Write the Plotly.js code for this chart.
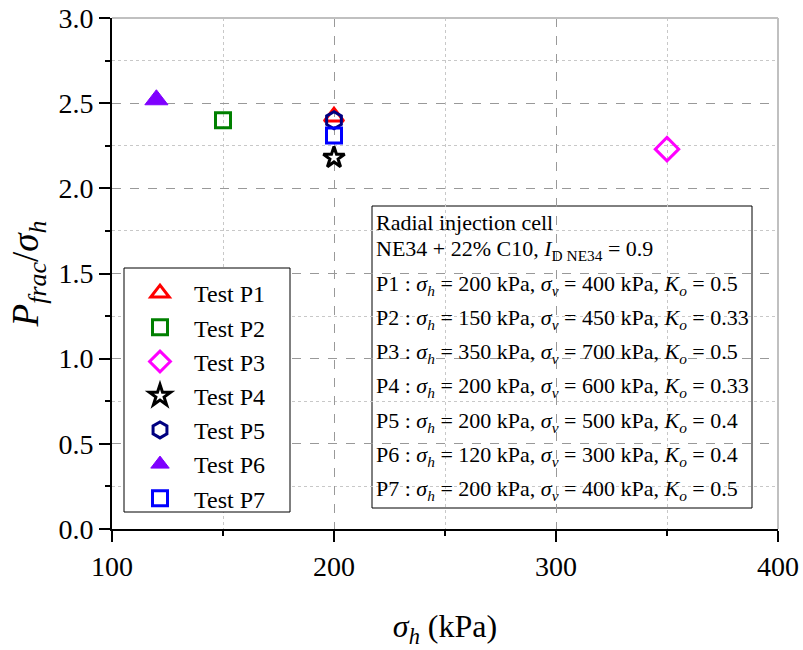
<!DOCTYPE html>
<html>
<head>
<meta charset="utf-8">
<script src="https://cdn.plot.ly/plotly-3.0.1.min.js"></script>
<style>html,body{margin:0;padding:0;background:#fff;}#chart{width:803px;height:650px;}</style>
</head>
<body>
<div id="chart"></div>
<script>
// ---- data ----
const testNames = ["Test P1","Test P2","Test P3","Test P4","Test P5","Test P6","Test P7"];
const testIds   = ["P1","P2","P3","P4","P5","P6","P7"];
const sigmaH    = [200, 150, 350, 200, 200, 120, 200];   // kPa
const sigmaV    = [400, 450, 700, 600, 500, 300, 400];   // kPa
const Ko        = ["0.5","0.33","0.5","0.33","0.4","0.4","0.5"];
const pRatio    = [2.42, 2.40, 2.23, 2.18, 2.40, 2.52, 2.31]; // P_frac / sigma_h

// ---- styles ----
const symbols = ["triangle-up-open","square-open","diamond-open","star-open","hexagon-open","triangle-up","square-open"];
const colors  = ["#FF0000","#008000","#FF00FF","#000000","#000080","#7F00FF","#0000FF"];
const sizes   = [17,15,18,16,17,20,15];

const font = "Liberation Serif";

const traces = testNames.map((n,i)=>({
  type:"scatter", mode:"markers", name:n,
  x:[sigmaH[i]], y:[pRatio[i]],
  marker:{symbol:symbols[i], color:colors[i], size:sizes[i],
          line:{color:colors[i], width: symbols[i].endsWith("open")?3:1}},
  cliponaxis:false
}));

// annotation box lines
const lines = ["Radial injection cell",
  "NE34 + 22% C10, <i>I</i><sub>D NE34</sub> = 0.9"];
testIds.forEach((id,i)=>{
  lines.push(id+" : <i>σ<sub>h</sub></i> = "+sigmaH[i]+" kPa, <i>σ<sub>v</sub></i> = "+sigmaV[i]+" kPa, <i>K<sub>o</sub></i> = "+Ko[i]);
});

// paper coordinates of plot area: left 112, right 778, top 18, bottom 529
const pxL=112, pxR=778, pxT=18, pxB=529;
const toPx = (px)=> (px-pxL)/(pxR-pxL);
const toPy = (py)=> (pxB-py)/(pxB-pxT);
const lineY = [222,250,285,319,353,387,422,456,490];

const annotations = lines.map((t,i)=>({
  xref:"paper", yref:"paper", x:toPx(374), y:toPy(lineY[i]),
  xanchor:"left", yanchor:"middle", showarrow:false,
  text:t, font:{family:font, size:22, color:"#000"}
}));

const shapes = [
  {type:"rect", xref:"paper", yref:"paper", x0:toPx(372), x1:toPx(752), y0:toPy(508), y1:toPy(206),
   line:{color:"#000", width:1}, fillcolor:"#fff", layer:"below"},
  {type:"rect", xref:"paper", yref:"paper", x0:toPx(124), x1:toPx(290), y0:toPy(512), y1:toPy(268),
   line:{color:"#000", width:1}, fillcolor:"#fff", layer:"above"},
  {type:"line", xref:"paper", yref:"paper", x0:0, x1:1, y0:1, y1:1, line:{color:"#c0c0c0", width:2}},
  {type:"line", xref:"paper", yref:"paper", x0:1, x1:1, y0:0, y1:1, line:{color:"#c0c0c0", width:2}}
];

const layout = {
  width:803, height:650,
  margin:{l:pxL, r:803-pxR, t:pxT, b:650-pxB},
  paper_bgcolor:"#fff", plot_bgcolor:"#fff",
  font:{family:font, color:"#000"},
  showlegend:true,
  legend:{x:toPx(126), y:toPy(271), xanchor:"left", yanchor:"top",
          bgcolor:"rgba(0,0,0,0)", borderwidth:0,
          font:{family:font, size:24}, tracegroupgap:0, itemwidth:58},
  xaxis:{range:[100,400], dtick:100, tick0:100, showline:true, linecolor:"#000", linewidth:2,
         ticks:"outside", ticklen:11, tickwidth:2, tickcolor:"#000",
         tickfont:{family:font, size:28},
         showgrid:true, gridcolor:"#999999", griddash:"dash", gridwidth:1, zeroline:false,
         minor:{dtick:50, ticks:"outside", ticklen:5, tickwidth:2, tickcolor:"#000", showgrid:true, gridcolor:"#c8c8c8", griddash:"dot", gridwidth:1},
         title:{text:"<i>σ<sub>h</sub></i> (kPa)", font:{family:font, size:32}, standoff:34}},
  yaxis:{range:[0,3], dtick:0.5, tick0:0, tickformat:".1f", showline:true, linecolor:"#000", linewidth:2,
         ticks:"outside", ticklen:11, tickwidth:2, tickcolor:"#000",
         tickfont:{family:font, size:28},
         showgrid:true, gridcolor:"#999999", griddash:"dash", gridwidth:1, zeroline:false,
         minor:{dtick:0.25, ticks:"outside", ticklen:5, tickwidth:2, tickcolor:"#000", showgrid:true, gridcolor:"#c8c8c8", griddash:"dot", gridwidth:1},
         title:{text:"<i>P<sub>frac</sub></i>/<i>σ<sub>h</sub></i>", font:{family:font, size:37}, standoff:8}},
  annotations:annotations,
  shapes:shapes
};

Plotly.newPlot("chart", traces, layout, {displayModeBar:false, staticPlot:true});
</script>
</body>
</html>
